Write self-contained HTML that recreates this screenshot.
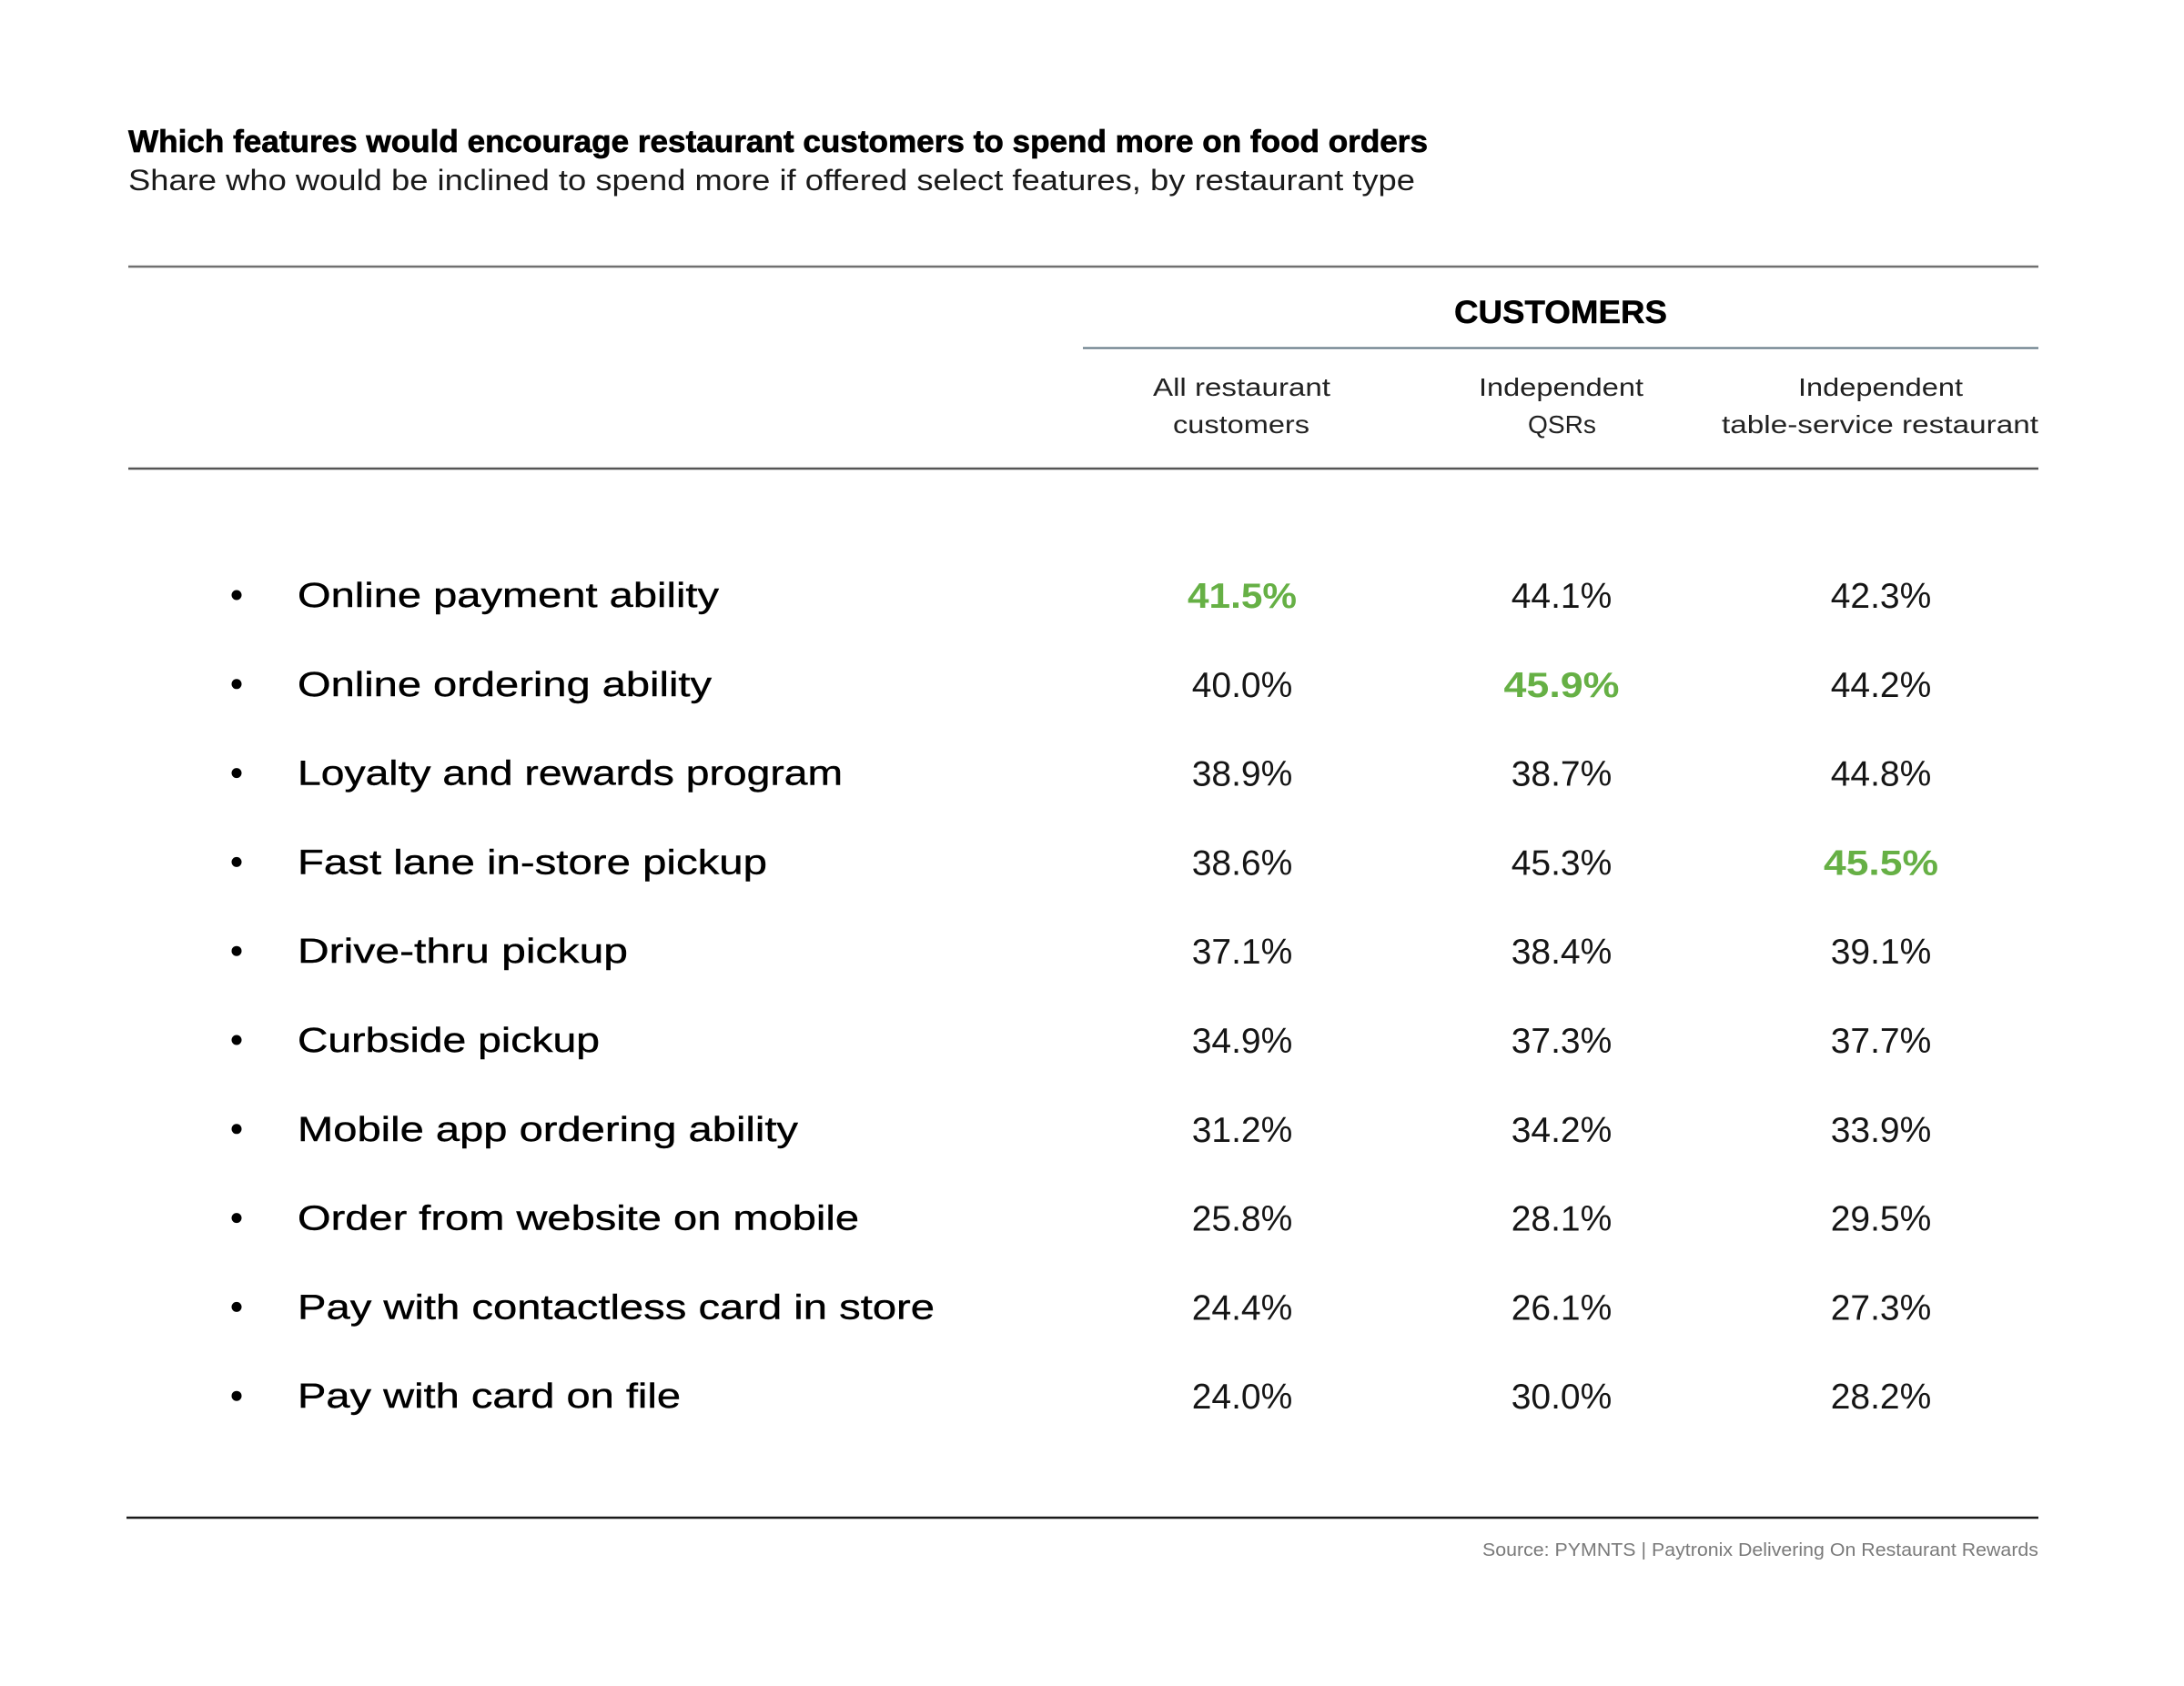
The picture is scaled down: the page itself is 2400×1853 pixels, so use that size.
<!DOCTYPE html>
<html>
<head>
<meta charset="utf-8">
<style>
  html, body { margin: 0; padding: 0; background: #ffffff; }
  svg { display: block; }
  text { font-family: "Liberation Sans", "DejaVu Sans", sans-serif; }
</style>
</head>
<body>
<svg width="2400" height="1853" viewBox="0 0 2400 1853" xmlns="http://www.w3.org/2000/svg">
  <rect x="0" y="0" width="2400" height="1853" fill="#ffffff"/>

  <!-- Title & subtitle -->
  <text x="141" y="167" font-size="34" font-weight="bold" fill="#000" stroke="#000" stroke-width="0.7" textLength="1428" lengthAdjust="spacingAndGlyphs">Which features would encourage restaurant customers to spend more on food orders</text>
  <text x="141" y="209" font-size="32" fill="#1a1a1a" textLength="1414" lengthAdjust="spacingAndGlyphs">Share who would be inclined to spend more if offered select features, by restaurant type</text>

  <!-- Rules -->
  <line x1="141" y1="293" x2="2240" y2="293" stroke="#707070" stroke-width="2.5"/>
  <line x1="1190" y1="382.5" x2="2240" y2="382.5" stroke="#5d7380" stroke-width="2"/>
  <line x1="141" y1="515" x2="2240" y2="515" stroke="#555555" stroke-width="2.5"/>
  <line x1="139" y1="1668" x2="2240" y2="1668" stroke="#1a1a1a" stroke-width="2.5"/>

  <!-- Column group header -->
  <text x="1598" y="355" font-size="35" font-weight="bold" fill="#000" stroke="#000" stroke-width="0.5" textLength="234" lengthAdjust="spacingAndGlyphs">CUSTOMERS</text>

  <!-- Column headers -->
  <g font-size="28" fill="#222">
    <text x="1267" y="435" textLength="195" lengthAdjust="spacingAndGlyphs">All restaurant</text>
    <text x="1289" y="476" textLength="150" lengthAdjust="spacingAndGlyphs">customers</text>
    <text x="1625" y="435" textLength="181" lengthAdjust="spacingAndGlyphs">Independent</text>
    <text x="1679" y="476" textLength="75" lengthAdjust="spacingAndGlyphs">QSRs</text>
    <text x="1976" y="435" textLength="181" lengthAdjust="spacingAndGlyphs">Independent</text>
    <text x="1892" y="476" textLength="348" lengthAdjust="spacingAndGlyphs">table-service restaurant</text>
  </g>

  <!-- Bullets -->
  <g fill="#000">
    <circle cx="260" cy="654" r="5.5"/>
    <circle cx="260" cy="751.8" r="5.5"/>
    <circle cx="260" cy="849.6" r="5.5"/>
    <circle cx="260" cy="947.4" r="5.5"/>
    <circle cx="260" cy="1045.2" r="5.5"/>
    <circle cx="260" cy="1143" r="5.5"/>
    <circle cx="260" cy="1240.8" r="5.5"/>
    <circle cx="260" cy="1338.6" r="5.5"/>
    <circle cx="260" cy="1436.4" r="5.5"/>
    <circle cx="260" cy="1534.2" r="5.5"/>
  </g>

  <!-- Row labels -->
  <g font-size="38" fill="#000" stroke="#000" stroke-width="0.4">
    <text x="327" y="667" textLength="463" lengthAdjust="spacingAndGlyphs">Online payment ability</text>
    <text x="327" y="764.8" textLength="455" lengthAdjust="spacingAndGlyphs">Online ordering ability</text>
    <text x="327" y="862.6" textLength="599" lengthAdjust="spacingAndGlyphs">Loyalty and rewards program</text>
    <text x="327" y="960.4" textLength="516" lengthAdjust="spacingAndGlyphs">Fast lane in-store pickup</text>
    <text x="327" y="1058.2" textLength="363" lengthAdjust="spacingAndGlyphs">Drive-thru pickup</text>
    <text x="327" y="1156" textLength="332" lengthAdjust="spacingAndGlyphs">Curbside pickup</text>
    <text x="327" y="1253.8" textLength="550" lengthAdjust="spacingAndGlyphs">Mobile app ordering ability</text>
    <text x="327" y="1351.6" textLength="617" lengthAdjust="spacingAndGlyphs">Order from website on mobile</text>
    <text x="327" y="1449.4" textLength="700" lengthAdjust="spacingAndGlyphs">Pay with contactless card in store</text>
    <text x="327" y="1547.2" textLength="421" lengthAdjust="spacingAndGlyphs">Pay with card on file</text>
  </g>

  <!-- Values -->
  <g font-size="39" fill="#151515" text-anchor="middle">
    <!-- row 1 -->
    <text x="1365" y="668" font-weight="bold" fill="#66b045" textLength="120" lengthAdjust="spacingAndGlyphs">41.5%</text>
    <text x="1716" y="668">44.1%</text>
    <text x="2067" y="668">42.3%</text>
    <!-- row 2 -->
    <text x="1365" y="765.8">40.0%</text>
    <text x="1716" y="765.8" font-weight="bold" fill="#66b045" textLength="127" lengthAdjust="spacingAndGlyphs">45.9%</text>
    <text x="2067" y="765.8">44.2%</text>
    <!-- row 3 -->
    <text x="1365" y="863.6">38.9%</text>
    <text x="1716" y="863.6">38.7%</text>
    <text x="2067" y="863.6">44.8%</text>
    <!-- row 4 -->
    <text x="1365" y="961.4">38.6%</text>
    <text x="1716" y="961.4">45.3%</text>
    <text x="2067" y="961.4" font-weight="bold" fill="#66b045" textLength="126" lengthAdjust="spacingAndGlyphs">45.5%</text>
    <!-- row 5 -->
    <text x="1365" y="1059.2">37.1%</text>
    <text x="1716" y="1059.2">38.4%</text>
    <text x="2067" y="1059.2">39.1%</text>
    <!-- row 6 -->
    <text x="1365" y="1157">34.9%</text>
    <text x="1716" y="1157">37.3%</text>
    <text x="2067" y="1157">37.7%</text>
    <!-- row 7 -->
    <text x="1365" y="1254.8">31.2%</text>
    <text x="1716" y="1254.8">34.2%</text>
    <text x="2067" y="1254.8">33.9%</text>
    <!-- row 8 -->
    <text x="1365" y="1352.6">25.8%</text>
    <text x="1716" y="1352.6">28.1%</text>
    <text x="2067" y="1352.6">29.5%</text>
    <!-- row 9 -->
    <text x="1365" y="1450.4">24.4%</text>
    <text x="1716" y="1450.4">26.1%</text>
    <text x="2067" y="1450.4">27.3%</text>
    <!-- row 10 -->
    <text x="1365" y="1548.2">24.0%</text>
    <text x="1716" y="1548.2">30.0%</text>
    <text x="2067" y="1548.2">28.2%</text>
  </g>

  <!-- Source -->
  <text x="1629" y="1710" font-size="20" fill="#7a7a7a" textLength="611" lengthAdjust="spacingAndGlyphs">Source: PYMNTS | Paytronix Delivering On Restaurant Rewards</text>
</svg>
</body>
</html>
